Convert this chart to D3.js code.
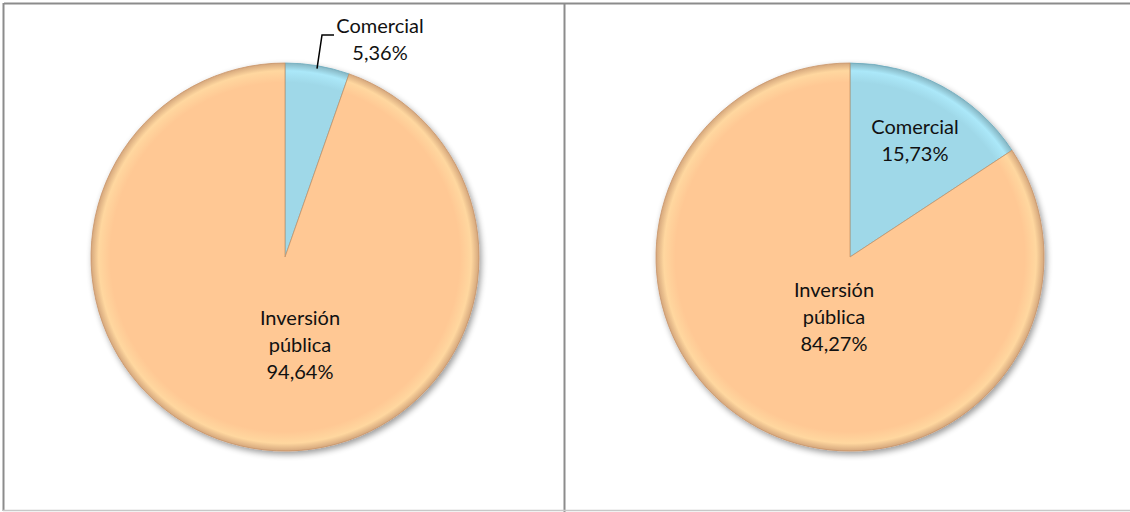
<!DOCTYPE html>
<html>
<head>
<meta charset="utf-8">
<script src="https://cdn.jsdelivr.net/npm/d3@7"></script>
<style>
  body { margin: 0; background: #fff; }
  text { font-family: Lato, "Open Sans", sans-serif; font-size: 20px; fill: #111; }
</style>
</head>
<body>
<svg id="chart" width="1130" height="512"></svg>
<script>
// chart data
const categories = ['Comercial', 'Inversión pública'];
const leftValues = [5.36, 94.64];
const rightValues = [15.73, 84.27];
const valueLabels = [['5,36%', '94,64%'], ['15,73%', '84,27%']];

const colors = ['#9fd8e8', '#ffc894'];
const edges = ['#6aaabd', '#c99468'];

// label anchor (middle line) relative to pie centre, like Excel puts them
const labelOffsets = [[null, [15, 88]], [[65, -117], [-16, 60]]];

const svg = d3.select('#chart');
const defs = svg.append('defs');

// soft shadow behind each pie
const shadow = defs.append('filter').attr('id', 'shadow')
  .attr('x', '-10%').attr('y', '-10%').attr('width', '120%').attr('height', '120%');
shadow.append('feGaussianBlur').attr('in', 'SourceAlpha').attr('stdDeviation', 3);
shadow.append('feOffset').attr('dx', 2).attr('dy', 3).attr('result', 'b');
shadow.append('feComponentTransfer').append('feFuncA').attr('type', 'linear').attr('slope', 0.4);
const merge = shadow.append('feMerge');
merge.append('feMergeNode');
merge.append('feMergeNode').attr('in', 'SourceGraphic');

// bevel-ish gradient per category
colors.forEach((c, i) => {
  const g = defs.append('radialGradient').attr('id', 'grad' + i)
    .attr('gradientUnits', 'userSpaceOnUse').attr('cx', 0).attr('cy', 0).attr('r', 194);
  g.append('stop').attr('offset', '0%').attr('stop-color', c);
  g.append('stop').attr('offset', '90%').attr('stop-color', c);
  g.append('stop').attr('offset', '96%').attr('stop-color', d3.color(c).brighter(0.2));
  g.append('stop').attr('offset', '100%').attr('stop-color', d3.color(c).darker(0.5));
});

// panel borders
svg.append('line').attr('x1', 4).attr('x2', 1130).attr('y1', 3.5).attr('y2', 3.5)
  .attr('stroke', '#8c8c8c').attr('stroke-width', 2);
svg.append('line').attr('x1', 3.5).attr('x2', 3.5).attr('y1', 3).attr('y2', 511)
  .attr('stroke', '#8c8c8c').attr('stroke-width', 2);
svg.append('line').attr('x1', 564.5).attr('x2', 564.5).attr('y1', 3).attr('y2', 512)
  .attr('stroke', '#8c8c8c').attr('stroke-width', 2);
svg.append('line').attr('x1', 3).attr('x2', 1130).attr('y1', 510.5).attr('y2', 510.5)
  .attr('stroke', '#c8c8c8').attr('stroke-width', 1.5);

const radius = 194;
const lineH = 27;
const pie = d3.pie().sort(null).value(d => d);
const arc = d3.arc().innerRadius(0).outerRadius(radius);

function drawPie(values, labels, cx, cy, panel) {
  const g = svg.append('g').attr('transform', `translate(${cx},${cy})`);
  const arcs = pie(values);

  g.append('g').attr('filter', 'url(#shadow)')
    .selectAll('path').data(arcs).join('path')
    .attr('d', arc)
    .attr('fill', (d, i) => `url(#grad${i})`)
    .attr('stroke', (d, i) => edges[i])
    .attr('stroke-width', 0.8)
    .attr('stroke-linejoin', 'round');

  arcs.forEach((d, i) => {
    const lines = categories[i] === 'Inversión pública'
      ? ['Inversión', 'pública', labels[i]]
      : [categories[i], labels[i]];
    let x, y;
    if (labelOffsets[panel][i] === null) {
      // small slice: label outside with leader line
      const a = (d.startAngle + d.endAngle) / 2;
      const p0 = [Math.sin(a) * (radius - 3), -Math.cos(a) * (radius - 3)];
      const p1 = [p0[0] + 5, -radius - 28];
      const p2 = [p1[0] + 12, p1[1]];
      g.append('path').attr('d', d3.line()([p0, p1, p2]))
        .attr('fill', 'none').attr('stroke', '#000').attr('stroke-width', 1.5);
      x = p2[0] + 46; y = -radius - 24;
    } else {
      [x, y] = labelOffsets[panel][i];
    }
    const t = g.append('text').attr('text-anchor', 'middle');
    const y0 = y - (lines.length - 1) * lineH / 2;
    lines.forEach((s, k) => {
      t.append('tspan').attr('x', x).attr('y', y0 + k * lineH + 7).text(s);
    });
  });
}

drawPie(leftValues, valueLabels[0], 285, 257, 0);
drawPie(rightValues, valueLabels[1], 850, 257, 1);
</script>
</body>
</html>
